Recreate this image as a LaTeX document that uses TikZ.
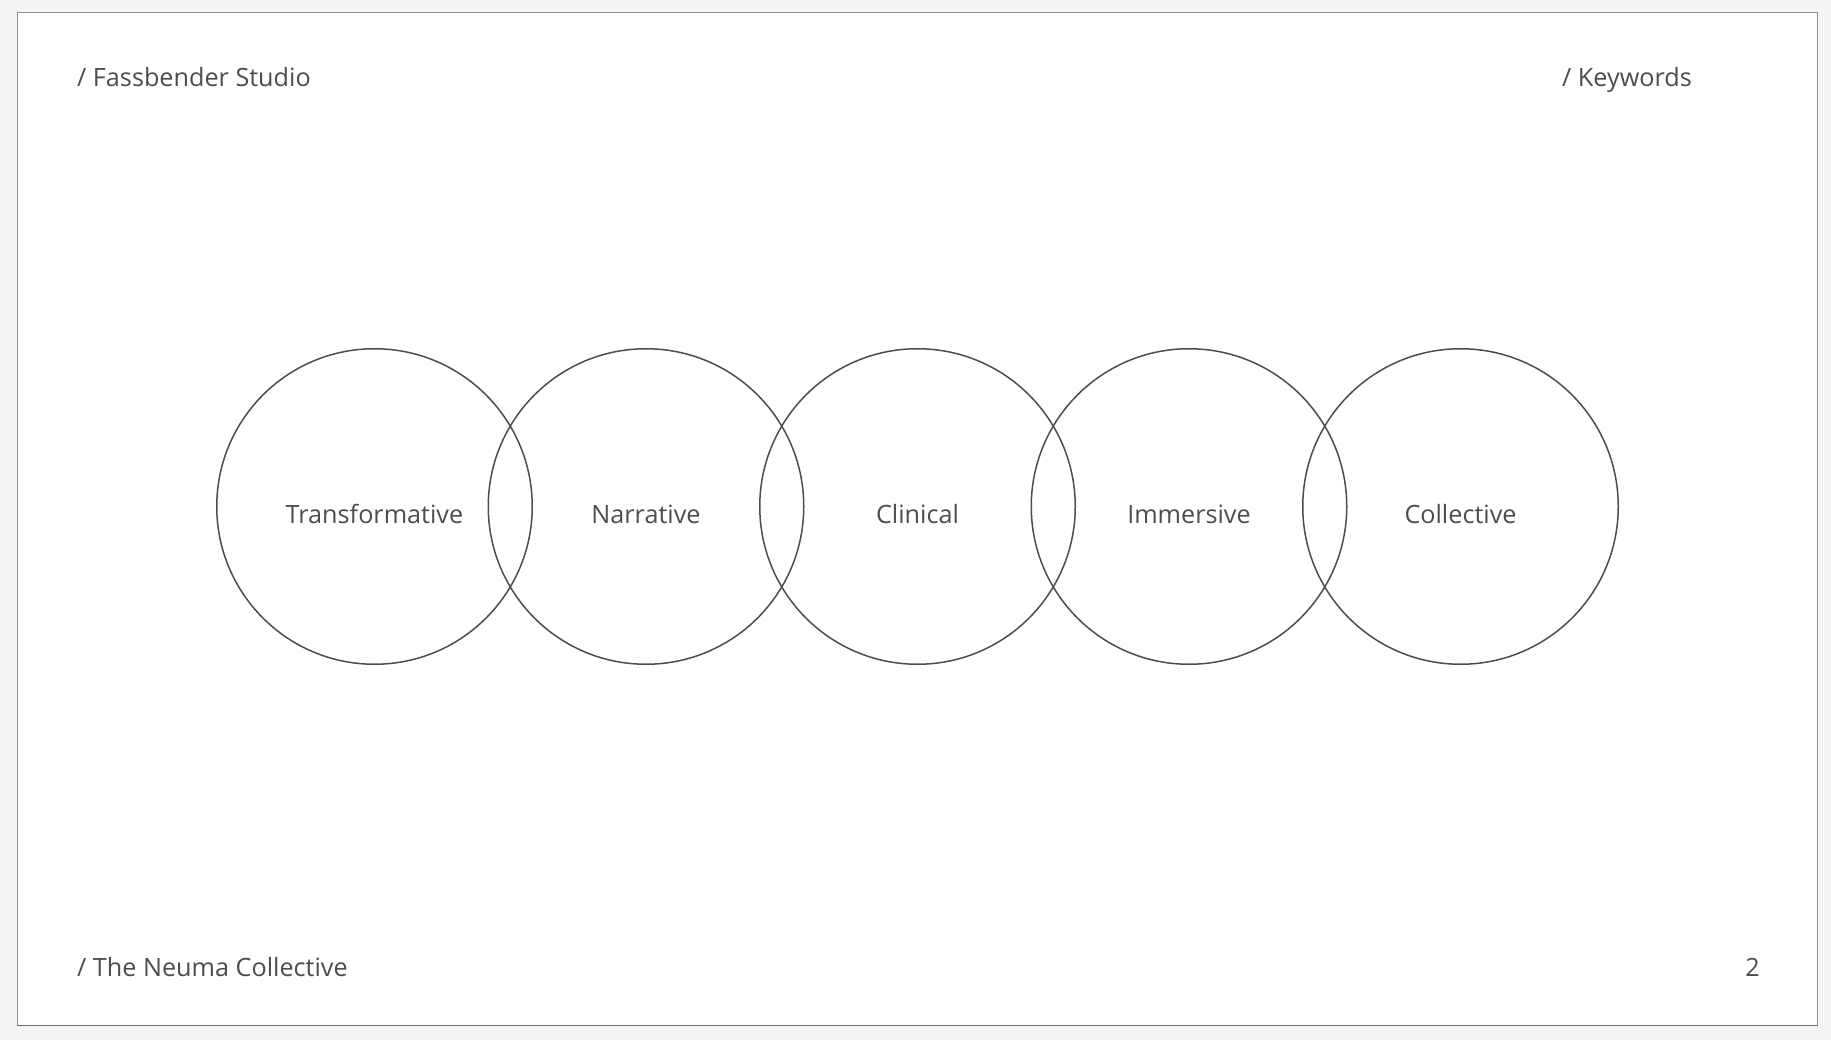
\documentclass[tikz,border=0pt]{standalone}
\usepackage{fontspec}
\setmainfont{Open Sans}
\definecolor{bgout}{HTML}{F5F5F5}
\definecolor{frame}{HTML}{8E8E8E}
\definecolor{ink}{HTML}{4D4D4D}
\begin{document}
\begin{tikzpicture}[x=1pt,y=-1pt,
  lbl/.style={font=\fontsize{25.2}{30}\selectfont, text=ink, inner sep=0pt},
  ring/.style={draw=ink, line width=1.5pt, circle, minimum size=315.5pt, inner sep=0pt}]
\fill[bgout] (0,0) rectangle (1831,1040);
\useasboundingbox (0,0) rectangle (1831,1040);
\draw[frame, fill=white, line width=1.5pt] (17.5,12.3) rectangle (1817.7,1025.7);
\draw[ink!80, line width=1.5pt] (17.5,1025.7) -- (1817.7,1025.7);
% header / footer
\node[lbl, anchor=base west] (hdrL) at (77,86.2) {/ Fassbender Studio};
\node[lbl, anchor=base east] (hdrR) at (1692,86.2) {/ Keywords};
\node[lbl, anchor=base west] (ftrL) at (77,976) {/ The Neuma Collective};
\node[lbl, anchor=base east] (ftrR) at (1760,976) {2};
% circles
\foreach \i/\x in {1/374.5,2/646,3/917.5,4/1189,5/1460.5}{
  \node[ring] (c\i) at (\x,506.5) {};
}
\node[lbl, anchor=base] (t1) at (374.5,523.2) {Transformative};
\node[lbl, anchor=base] (t2) at (646,523.2) {Narrative};
\node[lbl, anchor=base] (t3) at (917.5,523.2) {Clinical};
\node[lbl, anchor=base] (t4) at (1189,523.2) {Immersive};
\node[lbl, anchor=base] (t5) at (1460.5,523.2) {Collective};
\end{tikzpicture}
\end{document}
